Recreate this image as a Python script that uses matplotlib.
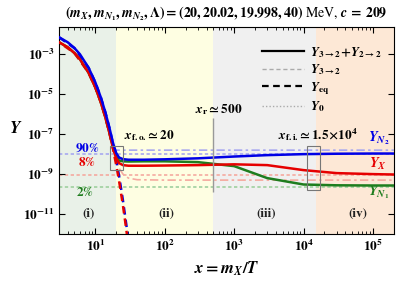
import matplotlib
matplotlib.use("Agg")
import matplotlib.pyplot as plt
from matplotlib.lines import Line2D
from matplotlib.patches import Rectangle
from matplotlib.ticker import FuncFormatter, NullLocator
import numpy as np

plt.rcParams["mathtext.fontset"] = "custom"
plt.rcParams["mathtext.rm"] = "STIXGeneral:bold"
plt.rcParams["mathtext.bf"] = "STIXGeneral:bold"
plt.rcParams["mathtext.it"] = "STIXGeneral:italic:bold"
plt.rcParams["mathtext.sf"] = "STIXGeneral"          # regular weight, used for tick labels
plt.rcParams["font.family"] = "STIXGeneral"
plt.rcParams["font.weight"] = "bold"

# ---- data (log10 Y vs x) ----
x_sol = [3, 4, 5, 6, 8, 10, 12, 14, 16, 18, 20, 22, 25, 30, 50, 100, 300, 1e3, 3e3, 1e4, 3e4, 1e5, 2e5]
logY_N2 = [-2.15, -2.40, -2.69, -3.00, -3.68, -4.41, -5.16, -5.93, -6.70, -7.45, -7.95, -8.17,
           -8.25, -8.28, -8.28, -8.26, -8.21, -8.12, -8.05, -8.00, -7.98, -7.97, -7.97]
logY_X = [-2.40, -2.65, -2.94, -3.25, -3.93, -4.66, -5.41, -6.18, -6.95, -7.70, -8.20, -8.45,
          -8.55, -8.58, -8.58, -8.57, -8.55, -8.51, -8.55, -8.80, -8.95, -9.00, -9.02]
logY_N1 = [-2.40, -2.65, -2.94, -3.25, -3.93, -4.66, -5.41, -6.18, -6.95, -7.65, -8.12, -8.32,
           -8.36, -8.37, -8.36, -8.36, -8.40, -8.60, -9.20, -9.52, -9.56, -9.57, -9.57]

x_eq = [3, 5, 8, 10, 12, 14, 16, 18, 20, 22, 25, 28, 30]
logYeq_N2 = [-2.15, -2.69, -3.68, -4.41, -5.16, -5.93, -6.71, -7.50, -8.30, -9.10, -10.32, -11.55, -12.4]
logYeq_X = [-2.40, -2.94, -3.93, -4.66, -5.41, -6.18, -6.96, -7.75, -8.55, -9.35, -10.57, -11.80, -12.65]

x_32 = [16, 17.5, 19, 20, 22, 25, 30, 40, 100, 1e3, 1e4, 2e5]
logY32_N2 = [-6.80, -7.50, -7.80, -7.80, -7.80, -7.80, -7.80, -7.80, -7.80, -7.80, -7.80, -7.80]
logY32_X = [-7.05, -7.70, -8.10, -8.30, -8.70, -9.00, -9.20, -9.28, -9.30, -9.30, -9.30, -9.30]

Y_TOT = 1.16e-8
fractions = {"N2": 0.90, "X": 0.08, "N1": 0.02}

X_FO, X_R, X_FI = 20, 500, 1.5e4
XMIN, XMAX = 3, 2e5

BLUE, RED, GREEN = "#0000e6", "#e60000", "#1e7d1e"
LBLUE, LRED, LGREEN = "#a8a8f0", "#f5aaa0", "#9fd09f"

fig = plt.figure(figsize=(3.99, 2.83), dpi=100)
ax = fig.add_axes([0.148, 0.173, 0.839, 0.732])

# background regions
ax.axvspan(XMIN, X_FO, color="#e9f1e8", lw=0, zorder=0)
ax.axvspan(X_FO, X_R, color="#fefee2", lw=0, zorder=0)
ax.axvspan(X_R, X_FI, color="#f0f0f0", lw=0, zorder=0)
ax.axvspan(X_FI, XMAX, color="#fde8d6", lw=0, zorder=0)

# Y0 dotted lines
for key, c in (("N2", LBLUE), ("X", LRED), ("N1", LGREEN)):
    ax.axhline(Y_TOT * fractions[key], color=c, ls=(0, (2, 1.5)), lw=1.2, zorder=1)

# Y_{3->2} light lines
ax.plot(x_32, 10 ** np.array(logY32_N2), color=LBLUE, ls=(0, (5, 2, 1.5, 2)), lw=1.2, zorder=2)
ax.plot(x_32, 10 ** np.array(logY32_X), color=LRED, ls=(0, (5, 2, 1.5, 2)), lw=1.2, zorder=2)

# equilibrium dashed
ax.plot(x_eq, 10 ** np.array(logYeq_N2), color=BLUE, ls=(0, (3, 2)), lw=1.8, zorder=3)
ax.plot(x_eq, 10 ** np.array(logYeq_X), color=RED, ls=(2.5, (3, 2)), lw=1.8, zorder=3)

# full solutions
ax.plot(x_sol, 10 ** np.array(logY_N1), color=GREEN, lw=1.8, zorder=4)
ax.plot(x_sol, 10 ** np.array(logY_X), color=RED, lw=1.8, zorder=5)
ax.plot(x_sol, 10 ** np.array(logY_N2), color=BLUE, lw=1.8, zorder=6)

# markers of transitions
ax.vlines(X_R, 10 ** -6.2, 10 ** -9.9, color="#999999", lw=1.0, zorder=7)
ax.add_patch(Rectangle((16.1, 10 ** -8.79), 25.4 - 16.1, 10 ** -7.585 - 10 ** -8.79,
                       fill=False, ec="#777777", lw=0.8, zorder=7))
ax.add_patch(Rectangle((1.12e4, 10 ** -9.785), 1.74e4 - 1.12e4, 10 ** -7.585 - 10 ** -9.785,
                       fill=False, ec="#777777", lw=0.8, zorder=7))

fs = 9.5
ax.text(25.5, 10 ** -7.05, r"$x_{\rm f.o.}\!\simeq 20$", fontsize=fs, ha="left", va="center")
ax.text(600, 10 ** -5.75, r"$x_{\rm r}\simeq 500$", fontsize=fs, ha="center", va="center")
ax.text(1.6e4, 10 ** -7.0, r"$x_{\rm f.i.}\!\simeq 1.5\!\times\!10^4$", fontsize=fs, ha="center", va="center")
ax.text(7.6, 10 ** -7.72, r"$90\%$", color=BLUE, fontsize=fs, ha="center", va="center")
ax.text(7.6, 10 ** -8.42, r"$8\%$", color=RED, fontsize=fs, ha="center", va="center")
ax.text(7.0, 10 ** -9.9, r"$2\%$", color=GREEN, fontsize=fs, ha="center", va="center")
ax.text(1.2e5, 10 ** -7.2, r"$Y_{N_2}$", color=BLUE, fontsize=10.5, ha="center", va="center")
ax.text(1.2e5, 10 ** -8.5, r"$Y_X$", color=RED, fontsize=10.5, ha="center", va="center")
ax.text(1.2e5, 10 ** -9.9, r"$Y_{N_1}$", color=GREEN, fontsize=10.5, ha="center", va="center")
for xp, lab in ((8.06, "(i)"), (104, "(ii)"), (2.9e3, "(iii)"), (6e4, "(iv)")):
    ax.text(xp, 10 ** -11.0, lab, fontsize=fs, ha="center", va="center", color="#222222")

handles = [Line2D([], [], color="black", lw=1.6),
           Line2D([], [], color="#aaaaaa", lw=1.0, ls=(0, (3, 2))),
           Line2D([], [], color="black", lw=1.6, ls=(0, (3, 2))),
           Line2D([], [], color="#aaaaaa", lw=1.0, ls=(0, (1, 1.5)))]
labels = [r"$Y_{3\to2}\!+\!Y_{2\to2}$", r"$Y_{3\to2}$", r"$Y_{\rm eq}$", r"$Y_0$"]
ax.legend(handles, labels, loc="upper right", bbox_to_anchor=(1.0, 0.97), frameon=False,
          fontsize=9.5, handlelength=3.2, labelspacing=0.2, handletextpad=0.5)

ax.set_xscale("log")
ax.set_yscale("log")
ax.set_xlim(XMIN, XMAX)
ax.set_ylim(1e-12, 10 ** -1.63)
ax.set_yticks([1e-3, 1e-5, 1e-7, 1e-9, 1e-11])
ax.yaxis.set_minor_locator(NullLocator())
tickfmt = FuncFormatter(lambda v, p: r"$\mathsf{10^{%d}}$" % round(np.log10(v)))
ax.xaxis.set_major_formatter(tickfmt)
ax.yaxis.set_major_formatter(tickfmt)
ax.tick_params(which="both", direction="in", top=True, right=True, labelsize=9.5)
ax.tick_params(which="major", length=4)
ax.tick_params(which="minor", length=2)
ax.set_xlabel(r"$x = m_X/T$", fontsize=12)
ax.set_ylabel(r"$Y$", fontsize=12.5, rotation=0)
ax.yaxis.set_label_coords(-0.13, 0.47)
ax.set_title(r"$(m_X, m_{N_1}, m_{N_2}, \Lambda) = (20, 20.02, 19.998, 40)$ MeV, $c\, =\, 209$",
             fontsize=10, pad=7)

fig.savefig("out.png", dpi=100)
